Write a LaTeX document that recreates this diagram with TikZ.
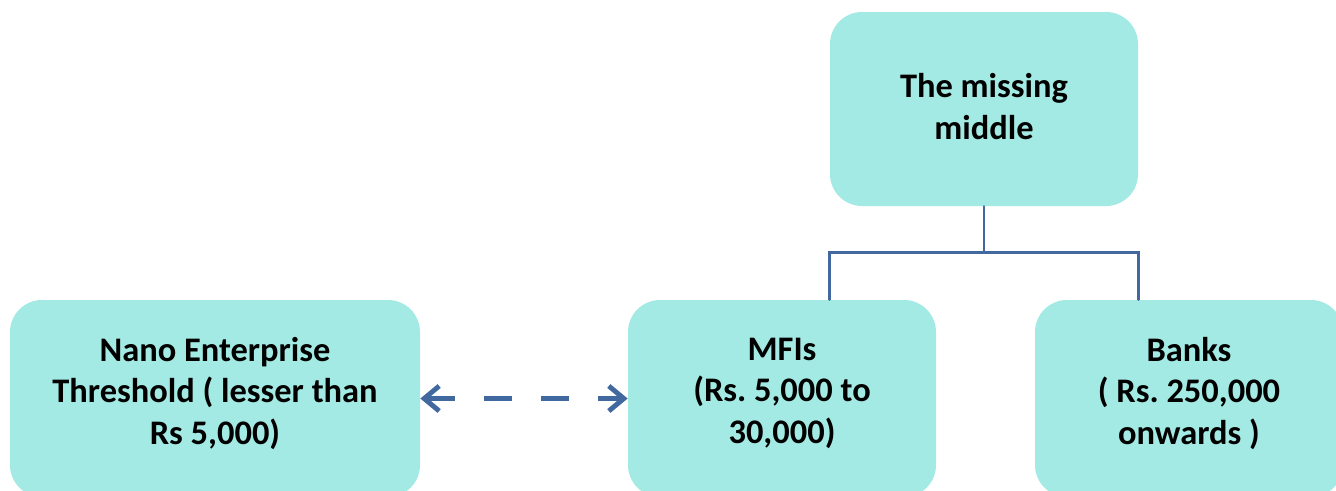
\documentclass[tikz,border=0pt]{standalone}
\usepackage{fontspec}
\setmainfont{Carlito}
\usetikzlibrary{arrows.meta}
\frenchspacing

\definecolor{boxfill}{RGB}{162,234,227}
\definecolor{linkblue}{RGB}{65,105,160}

\begin{document}
\begin{tikzpicture}[
    box/.style={fill=boxfill, rounded corners=0.64cm, align=center,
                font=\bfseries\fontsize{19.6}{23.6}\selectfont,
                minimum width=6.16cm, minimum height=3.94cm, inner sep=0pt,
                text depth=9pt},
    link/.style={draw=linkblue, line width=1.4pt, line cap=round},
  ]
    \useasboundingbox (0,0) rectangle (26.72,9.8);

    % Boxes
    \node[box, minimum height=3.88cm, text depth=3pt] (top) at (19.68,7.62) {The missing\\middle};
    \node[box, minimum width=8.2cm]   (nano)  at ( 4.30,1.83) {Nano Enterprise\\Threshold ( lesser than\\Rs 5,000)};
    \node[box]                        (mfi)   at (15.64,1.83) {MFIs\\(Rs. 5,000 to\\30,000)};
    \node[box]                        (banks) at (23.78,1.83) {Banks\\( Rs. 250,000\\onwards )};

    % Tree lines
    \path (top.south) ++(0,-0.92) coordinate (hub);
    \draw[link] (top.south) -- (hub);
    \draw[link] (top.south west |- mfi.north) |- (hub) -| (top.south east |- banks.north);

    % Dashed double arrow
    \draw[draw=linkblue, line width=2.8pt, dash pattern=on 0.56cm off 0.58cm,
          {Straight Barb[length=3mm, width=5mm]}-{Straight Barb[length=3mm, width=5mm]}]
          (nano.east) -- (mfi.west);
\end{tikzpicture}
\end{document}
